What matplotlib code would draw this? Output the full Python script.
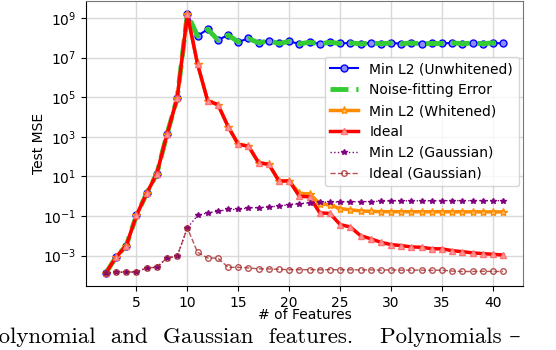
import matplotlib
matplotlib.use("Agg")
import matplotlib.pyplot as plt
import numpy as np

n_features = list(range(2, 42))

min_l2_unwhitened = [1.32e-4, 8.5e-4, 3.2e-3, 0.107, 1.38, 13.8, 1350, 8.9e4, 1.6e9,
                     1.26e8, 2.75e8, 7.8e7, 1.38e8, 6.3e7, 9.3e7, 5.6e7, 7.1e7, 5.2e7, 6.6e7,
                     5.0e7, 6.0e7, 5.0e7, 6.0e7, 5.2e7, 5.6e7, 5.0e7, 5.5e7, 5.1e7, 5.5e7,
                     5.1e7, 5.5e7, 5.1e7, 5.2e7, 5.2e7, 5.6e7, 5.1e7, 5.5e7, 5.1e7, 5.6e7, 5.2e7]

noise_fitting = list(min_l2_unwhitened)

ideal = [1.32e-4, 8.5e-4, 3.2e-3, 0.107, 1.38, 13.8, 1350, 8.9e4, 1.55e9,
         4.7e6, 6.5e4, 4.3e4, 3.3e3, 417, 339, 49, 41, 5.8, 6.0,
         1.0, 0.93, 0.145, 0.135, 0.037, 0.028, 0.0102, 0.0071, 0.0047, 0.0036,
         0.0032, 0.00275, 0.00263, 0.00224, 0.00219, 0.00178, 0.00158, 0.00138,
         0.00126, 0.00117, 0.00107]

min_l2_whitened = ideal[:19] + [1.38, 1.32, 0.42, 0.355, 0.24, 0.204, 0.182, 0.17,
                                0.166, 0.166, 0.165, 0.165, 0.164, 0.164, 0.164,
                                0.163, 0.163, 0.163, 0.162, 0.162, 0.162]

ideal_gaussian = [1.32e-4, 1.45e-4, 1.48e-4, 1.48e-4, 2.4e-4, 2.57e-4, 7.6e-4, 9.3e-4, 0.025,
                  1.48e-3, 7.6e-4, 7.4e-4, 2.57e-4, 2.57e-4, 2.4e-4, 2.14e-4, 2.14e-4, 2.04e-4,
                  1.95e-4, 1.95e-4, 1.95e-4, 1.93e-4, 1.95e-4, 1.93e-4, 1.93e-4, 1.9e-4, 1.9e-4,
                  1.85e-4, 1.9e-4, 1.85e-4, 1.85e-4, 1.85e-4, 1.8e-4, 1.85e-4, 1.65e-4, 1.58e-4,
                  1.58e-4, 1.62e-4, 1.58e-4, 1.58e-4]

min_l2_gaussian = ideal_gaussian[:8] + [0.025, 0.107, 0.145, 0.174, 0.214, 0.214, 0.257, 0.269,
                                        0.288, 0.316, 0.38, 0.417, 0.468, 0.50, 0.50, 0.525,
                                        0.525, 0.537, 0.537, 0.56, 0.59, 0.59, 0.59, 0.59, 0.59,
                                        0.60, 0.60, 0.60, 0.60, 0.60, 0.60, 0.60]

caption_left = 'Polynomial  and  Gaussian  features.'
caption_right = 'Polynomials \u2013'

fig = plt.figure(figsize=(5.56, 3.5), dpi=100)
ax = fig.add_axes([0.1547, 0.1829, 0.7859, 0.814])

ax.plot(n_features, min_l2_unwhitened, '-o', color='blue', lw=1.5, ms=5,
        mfc=(0.55, 0.55, 1.0), mec='blue', label='Min L2 (Unwhitened)')
ax.plot(n_features, noise_fitting, '--', color='#33cc33', lw=3.5, label='Noise-fitting Error')
ax.plot(n_features, min_l2_whitened, '-*', color='darkorange', lw=2.5, ms=6,
        mfc=(1.0, 0.75, 0.4), mec='darkorange', label='Min L2 (Whitened)')
ax.plot(n_features, ideal, '-^', color='red', lw=2.5, ms=5,
        mfc=(1.0, 0.6, 0.6), mec=(1.0, 0.45, 0.45), label='Ideal')
ax.plot(n_features, min_l2_gaussian, ':*', color='purple', lw=1, ms=4,
        label='Min L2 (Gaussian)')
ax.plot(n_features, ideal_gaussian, '--o', color='brown', lw=1, ms=4,
        mfc='none', alpha=0.8, label='Ideal (Gaussian)')

ax.set_yscale('log')
ax.grid(True, color='#d9d9d9', lw=1)
ax.set_axisbelow(True)
ax.set_xticks([5, 10, 15, 20, 25, 30, 35, 40])
ax.set_xlabel('# of Features', labelpad=-1)
ax.set_ylabel('Test MSE', labelpad=-2)
for s in ['top', 'right']:
    ax.spines[s].set_color('#777777')

ax.legend(loc='upper right', bbox_to_anchor=(0.99, 0.805), borderaxespad=0,
          fontsize=10, handlelength=2)

fig.text(-0.03, 0.02, caption_left, fontsize=16.5, family=['cmr10', 'DejaVu Serif'],
         ha='left', va='baseline')
fig.text(0.683, 0.02, caption_right, fontsize=16.5, family=['cmr10', 'DejaVu Serif'],
         ha='left', va='baseline')

fig.savefig('out.png', dpi=100)
